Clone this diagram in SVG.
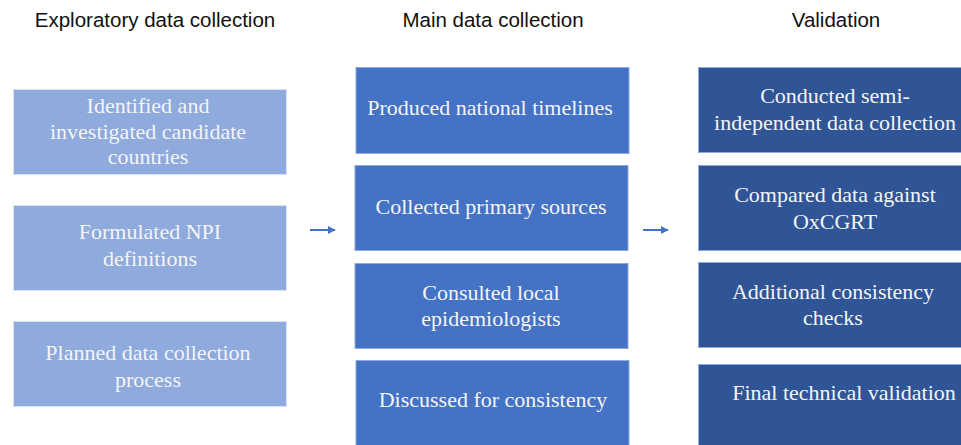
<svg xmlns="http://www.w3.org/2000/svg" width="961" height="445" viewBox="0 0 961 445">
<defs>
<style>
.hdr{font-family:"Liberation Sans",Arial,sans-serif;font-size:20.5px;fill:#111;text-anchor:middle}
.t{font-family:"Liberation Serif","Times New Roman",serif;font-size:22px;fill:#f4f4f4;text-anchor:middle}
.b1{fill:#8FAADC;stroke:#DAE3F3;stroke-width:1}
.b2{fill:#4472C4;stroke:#8FAADC;stroke-width:1}
.b3{fill:#2F5597;stroke:#8FAADC;stroke-width:1}
.conn{stroke:#4472C4;stroke-width:2;fill:none}
</style>
<marker id="ah" viewBox="0 0 10 10" refX="9" refY="5" markerWidth="4" markerHeight="4" orient="auto">
<path d="M0,0 L10,5 L0,10 z" fill="#4472C4"/>
</marker>
</defs>
<rect width="961" height="445" fill="#fff"/>
<text class="hdr" x="155" y="27">Exploratory data collection</text>
<text class="hdr" x="493" y="27">Main data collection</text>
<text class="hdr" x="836" y="27">Validation</text>

<g id="e1"><rect class="b1" x="13.5" y="89.5" width="273" height="85"/>
<text class="t" x="148" y="113">Identified and</text><text class="t" x="148" y="139">investigated candidate</text><text class="t" x="148" y="164">countries</text></g>
<g id="e2"><rect class="b1" x="13.5" y="205.5" width="273" height="85"/>
<text class="t" x="150" y="239">Formulated NPI</text><text class="t" x="150" y="266">definitions</text></g>
<g id="e3"><rect class="b1" x="13.5" y="321.5" width="273" height="85"/>
<text class="t" x="148" y="360">Planned data collection</text><text class="t" x="148" y="387">process</text></g>

<g id="m1"><rect class="b2" x="356" y="67.5" width="273" height="86"/>
<text class="t" x="490" y="115">Produced national timelines</text></g>
<g id="m2"><rect class="b2" x="355" y="165.5" width="273" height="85"/>
<text class="t" x="491" y="214">Collected primary sources</text></g>
<g id="m3"><rect class="b2" x="355" y="263.5" width="273" height="85"/>
<text class="t" x="491" y="300">Consulted local</text><text class="t" x="491" y="326">epidemiologists</text></g>
<g id="m4"><rect class="b2" x="356" y="360.5" width="273" height="86"/>
<text class="t" x="493" y="407">Discussed for consistency</text></g>

<g id="v1"><rect class="b3" x="698.5" y="67.5" width="270" height="85"/>
<text class="t" x="835" y="103">Conducted semi-</text><text class="t" x="835" y="130">independent data collection</text></g>
<g id="v2"><rect class="b3" x="698.5" y="165.5" width="270" height="85"/>
<text class="t" x="835" y="202">Compared data against</text><text class="t" x="835" y="229">OxCGRT</text></g>
<g id="v3"><rect class="b3" x="698.5" y="262.5" width="270" height="85"/>
<text class="t" x="833" y="299">Additional consistency</text><text class="t" x="833" y="325">checks</text></g>
<g id="v4"><rect class="b3" x="698.5" y="364.5" width="270" height="85"/>
<text class="t" x="844" y="400">Final technical validation</text></g>

<g id="connectors">
<line class="conn" x1="310" y1="230" x2="335" y2="230" marker-end="url(#ah)"/>
<line class="conn" x1="643" y1="230" x2="668" y2="230" marker-end="url(#ah)"/>
</g>
</svg>
